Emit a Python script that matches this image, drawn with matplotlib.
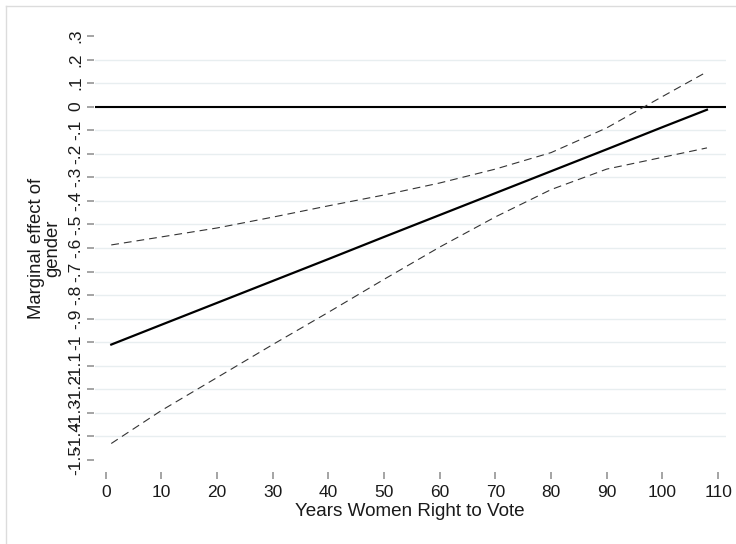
import matplotlib.pyplot as plt
from matplotlib.lines import Line2D

plt.rcParams['font.family'] = ['Liberation Sans', 'DejaVu Sans']

# marginal effect of gender and its confidence band, by years since women's suffrage
years = [1, 10, 20, 30, 40, 50, 60, 70, 80, 90, 100, 108]
effect = [-1.01, -0.926, -0.833, -0.740, -0.647, -0.553, -0.460, -0.367, -0.274, -0.181, -0.087, -0.013]
upper = [-0.587, -0.553, -0.515, -0.469, -0.421, -0.375, -0.324, -0.265, -0.195, -0.09, 0.043, 0.148]
lower = [-1.43, -1.29, -1.15, -1.01, -0.873, -0.733, -0.596, -0.468, -0.352, -0.265, -0.215, -0.175]

y_ticks = [0.3, 0.2, 0.1, 0.0, -0.1, -0.2, -0.3, -0.4, -0.5, -0.6, -0.7, -0.8,
           -0.9, -1.0, -1.1, -1.2, -1.3, -1.4, -1.5]
y_labels = ['.3', '.2', '.1', '0', '-.1', '-.2', '-.3', '-.4', '-.5', '-.6', '-.7', '-.8',
            '-.9', '-1', '-1.1', '-1.2', '-1.3', '-1.4', '-1.5']
x_ticks = [0, 10, 20, 30, 40, 50, 60, 70, 80, 90, 100, 110]

W, H = 736, 544
fig = plt.figure(figsize=(W / 100, H / 100), dpi=100)
fig.patch.set_facecolor('white')
ax = fig.add_axes([95 / W, 1 - 468 / H, (726 - 95) / W, (468 - 30) / H])

# light grid, skipping the outermost ticks
for yv in y_ticks[1:-1]:
    ax.axhline(yv, color='#e8eef0', lw=1.0, zorder=1)
ax.axhline(0, color='black', lw=1.5, zorder=2)

ax.plot(years, upper, color='#333333', lw=0.8, linestyle=(0, (7, 4.5)), zorder=3)
ax.plot(years, lower, color='#333333', lw=0.8, linestyle=(0, (7, 4.5)), zorder=3)
ax.plot(years, effect, color='black', lw=1.6, zorder=4)

ax.set_xlim(-1.92, 111.42)
ax.set_ylim(-1.534, 0.3255)

for s in ax.spines.values():
    s.set_visible(False)
ax.spines['left'].set_position(('outward', 1))
ax.spines['bottom'].set_position(('outward', 3))

ax.set_xticks(x_ticks)
ax.set_xticklabels([str(v) for v in x_ticks])
ax.set_yticks(y_ticks)
ax.set_yticklabels(y_labels, rotation=90, va='center')
ax.tick_params(axis='both', length=5, width=1.1, color='#8c8c8c',
               labelsize=12.5, labelcolor='#1a1a1a')
ax.tick_params(axis='x', pad=4.5)
ax.tick_params(axis='y', pad=2.5)

fig.text(45 / W, 1 - 248 / H, 'Marginal effect of\ngender', rotation=90,
         ha='center', va='center', fontsize=13.3, linespacing=0.95, color='#1a1a1a')
fig.text(410 / W, 1 - 511 / H, 'Years Women Right to Vote',
         ha='center', va='center', fontsize=13.6, color='#1a1a1a')

# thin outer frame on the top and left edges
fig.add_artist(Line2D([6 / W, 1], [1 - 6 / H, 1 - 6 / H], transform=fig.transFigure,
                      color='#dcdcdc', lw=1.0))
fig.add_artist(Line2D([6 / W, 6 / W], [0, 1 - 6 / H], transform=fig.transFigure,
                      color='#dcdcdc', lw=1.0))

fig.savefig('out.png', dpi=100)
